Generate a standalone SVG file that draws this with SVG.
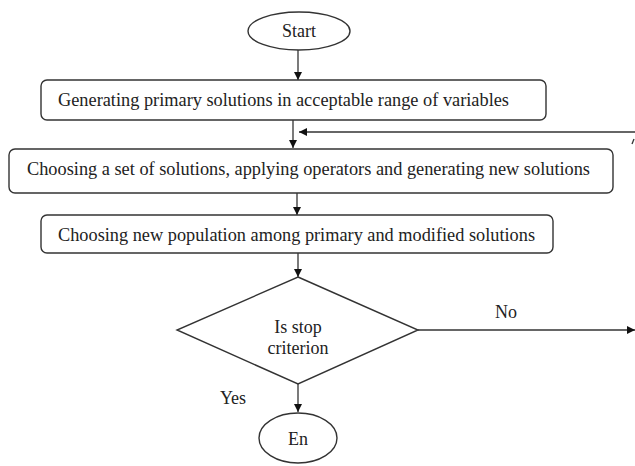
<svg xmlns="http://www.w3.org/2000/svg" width="635" height="466" viewBox="0 0 635 466">
<style>
.sh{fill:#fff;stroke:#333;stroke-width:1.4}
.ln{fill:none;stroke:#333;stroke-width:1.3}
.t{font-family:"Liberation Serif","Times New Roman",serif;font-size:18px;fill:#222;text-anchor:middle}
</style>
<defs>
<marker id="ah" viewBox="0 0 10 10" refX="10" refY="5" markerWidth="8" markerHeight="8" markerUnits="userSpaceOnUse" orient="auto">
<path d="M0,0 L10,5 L0,10 Z" fill="#111"/>
</marker>
</defs>
<rect width="635" height="466" fill="#fff"/>
<g id="connectors">
<line class="ln" x1="298" y1="50" x2="298" y2="80" marker-end="url(#ah)"/>
<line class="ln" x1="293" y1="120" x2="293" y2="148" marker-end="url(#ah)"/>
<line class="ln" x1="635" y1="132" x2="299" y2="132" marker-end="url(#ah)"/>
<line class="ln" x1="634" y1="139" x2="632" y2="144"/>
<line class="ln" x1="297" y1="193" x2="297" y2="215" marker-end="url(#ah)"/>
<line class="ln" x1="298" y1="253" x2="298" y2="277" marker-end="url(#ah)"/>
<line class="ln" x1="418" y1="330" x2="635" y2="330" marker-end="url(#ah)"/>
<line class="ln" x1="298" y1="384" x2="298" y2="412" marker-end="url(#ah)"/>
<text class="t" x="506" y="318">No</text>
<text class="t" x="233" y="404">Yes</text>
</g>
<g id="start">
<ellipse class="sh" cx="299" cy="31" rx="51" ry="19"/>
<text class="t" x="299" y="37">Start</text>
</g>
<g id="generate">
<rect class="sh" x="41" y="80" width="505" height="40" rx="6"/>
<text class="t" x="283.5" y="106" textLength="451" lengthAdjust="spacingAndGlyphs">Generating primary solutions in acceptable range of variables</text>
</g>
<g id="choose-set">
<rect class="sh" x="9" y="149" width="604" height="44" rx="6"/>
<text class="t" x="308.5" y="175" textLength="563" lengthAdjust="spacingAndGlyphs">Choosing a set of solutions, applying operators and generating new solutions</text>
</g>
<g id="choose-pop">
<rect class="sh" x="41" y="215" width="512" height="38" rx="6"/>
<text class="t" x="296.5" y="241" textLength="477" lengthAdjust="spacingAndGlyphs">Choosing new population among primary and modified solutions</text>
</g>
<g id="decision">
<polygon class="sh" points="298,277 418,330 298,384 177,330"/>
<text class="t" x="298" y="333">Is stop</text>
<text class="t" x="298" y="354">criterion</text>
</g>
<g id="end">
<ellipse class="sh" cx="298" cy="438" rx="39" ry="25"/>
<text class="t" x="298" y="445">En</text>
</g>
</svg>
